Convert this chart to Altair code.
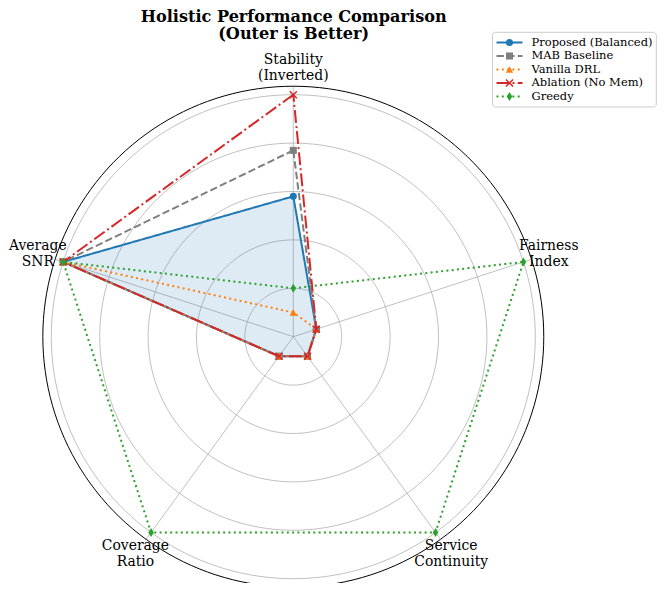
import altair as alt
import pandas as pd

# ---------------- data ----------------
categories = ["Stability\n(Inverted)", "Average\nSNR", "Coverage\nRatio",
              "Service\nContinuity", "Fairness\nIndex"]
series_names = ["Proposed (Balanced)", "MAB Baseline", "Vanilla DRL",
                "Ablation (No Mem)", "Greedy"]
proposed = [0.58, 1.0, 0.10, 0.10, 0.10]
mab = [0.77, 1.0, 0.10, 0.10, 0.10]
vanilla = [0.10, 1.0, 0.10, 0.10, 0.10]
ablation = [1.0, 1.0, 0.10, 0.10, 0.10]
greedy = [0.20, 1.0, 1.0, 1.0, 1.0]
series_values = [proposed, mab, vanilla, ablation, greedy]
ring_ticks = [0.2, 0.4, 0.6, 0.8, 1.0]
title_text = "Holistic Performance Comparison\n(Outer is Better)"

# ---------------- style ----------------
colors = ["#1f77b4", "#7f7f7f", "#ff7f0e", "#d62728", "#2ca02c"]
dashes = [[1, 0], [7.4, 3.2], [2, 3.3], [12.8, 3.2, 2, 3.2], [2, 3.3]]
shapes = ["circle", "square", "triangle-up", "M-1,-1L1,1M-1,1L1,-1",
          "M0,-1L0.62,0L0,1L-0.62,0Z"]
sizes = [50, 50, 55, 50, 80]
filled = [True, True, True, False, True]
R_MAX = 1.035
R_LABEL = 1.11
SERIF = "DejaVu Serif"

W, H = 649, 575
UNIT = 242.0
CX, CY = 285.3, 328.7
xs = alt.Scale(domain=[-CX / UNIT, (W - CX) / UNIT], nice=False, zero=False)
ys = alt.Scale(domain=[-(H - CY) / UNIT, CY / UNIT], nice=False, zero=False)


def X(f):
    return alt.X(f"{f}:Q", scale=xs, axis=None)


def Y(f):
    return alt.Y(f"{f}:Q", scale=ys, axis=None)


n = len(categories)
ang_expr = f"PI/2 + datum.idx*2*PI/{n}"

layers = []

# grid rings
ring_rows = []
for r in ring_ticks:
    for t in range(0, 181):
        ring_rows.append({"ring": r, "t": t})
ring_df = pd.DataFrame(ring_rows)
rings = alt.Chart(ring_df).mark_line(color="#b0b0b0", strokeWidth=0.8).transform_calculate(
    ang="datum.t*2*PI/180", px="datum.ring*cos(datum.ang)", py="datum.ring*sin(datum.ang)"
).encode(x=X("px"), y=Y("py"), detail="ring:N", order="t:Q")
layers.append(rings)

# radial lines
spoke_df = pd.DataFrame({"idx": list(range(n)), "rmax": [R_MAX] * n})
spokes = alt.Chart(spoke_df).mark_rule(color="#b0b0b0", strokeWidth=0.8).transform_calculate(
    ang=ang_expr, px="0", py="0",
    px2="datum.rmax*cos(datum.ang)", py2="datum.rmax*sin(datum.ang)"
).encode(x=X("px"), y=Y("py"), x2="px2:Q", y2="py2:Q")
layers.append(spokes)

# outer spine
spine_df = pd.DataFrame({"t": list(range(0, 181)), "ring": [R_MAX] * 181})
spine = alt.Chart(spine_df).mark_line(color="black", strokeWidth=1).transform_calculate(
    ang="datum.t*2*PI/180", px="datum.ring*cos(datum.ang)", py="datum.ring*sin(datum.ang)"
).encode(x=X("px"), y=Y("py"), order="t:Q")
layers.append(spine)

# category labels
lab_df = pd.DataFrame({"idx": list(range(n)), "label": categories, "rl": [R_LABEL] * n})
labels = alt.Chart(lab_df).mark_text(font=SERIF, fontSize=13.9, lineBreak="\n", lineHeight=16,
                                     align="center", baseline="middle", dy=-8,
                                     color="black").transform_calculate(
    ang=ang_expr, px="datum.rl*cos(datum.ang)", py="datum.rl*sin(datum.ang)"
).encode(x=X("px"), y=Y("py"), text="label:N")
layers.append(labels)


def poly_df(vals):
    rows = []
    for k in range(n + 1):
        i = k % n
        rows.append({"idx": i, "k": k, "value": vals[i]})
    return pd.DataFrame(rows)


for si, (name, vals) in enumerate(zip(series_names, series_values)):
    df = poly_df(vals)
    base = alt.Chart(df).transform_calculate(
        ang=ang_expr, px="datum.value*cos(datum.ang)", py="datum.value*sin(datum.ang)"
    )
    if si == 0:
        layers.append(base.mark_line(fill=colors[0], fillOpacity=0.15, strokeWidth=0).encode(
            x=X("px"), y=Y("py"), order="k:Q"))
    layers.append(base.mark_line(color=colors[si], strokeWidth=2, strokeDash=dashes[si]).encode(
        x=X("px"), y=Y("py"), order="k:Q"))
    pts = df[df["k"] < n]
    pbase = alt.Chart(pts).transform_calculate(
        ang=ang_expr, px="datum.value*cos(datum.ang)", py="datum.value*sin(datum.ang)"
    )
    if filled[si]:
        pm = pbase.mark_point(shape=shapes[si], filled=True, size=sizes[si], color=colors[si], opacity=1)
    else:
        pm = pbase.mark_point(shape=shapes[si], filled=False, size=sizes[si], color=colors[si],
                              strokeWidth=1.5, opacity=1)
    layers.append(pm.encode(x=X("px"), y=Y("py")))

# title
title_df = pd.DataFrame({"t": [title_text]})
layers.append(alt.Chart(title_df).mark_text(font=SERIF, fontSize=16.1, fontWeight="bold", lineBreak="\n",
                                            lineHeight=17.5, align="center", baseline="top",
                                            color="black").encode(
    x=alt.value(285.7), y=alt.value(0.5), text="t:N"))

# legend
one = pd.DataFrame({"a": [0]})
layers.append(alt.Chart(one).mark_rect(cornerRadius=3, fill="white", fillOpacity=0.8,
                                       stroke="#cccccc", strokeWidth=1).encode(
    x=alt.value(484.5), x2=alt.value(648.3), y=alt.value(24.3), y2=alt.value(99)))
leg_y = [34.5, 48, 61.5, 75, 88.5]
LX = 488.5
for si, name in enumerate(series_names):
    ndf = pd.DataFrame({"name": [name]})
    layers.append(alt.Chart(ndf).mark_rule(color=colors[si], strokeWidth=2, strokeDash=dashes[si]).encode(
        x=alt.value(LX), x2=alt.value(LX + 26), y=alt.value(leg_y[si])))
    if filled[si]:
        pm = alt.Chart(ndf).mark_point(shape=shapes[si], filled=True, size=sizes[si], color=colors[si], opacity=1)
    else:
        pm = alt.Chart(ndf).mark_point(shape=shapes[si], filled=False, size=sizes[si], color=colors[si],
                                       strokeWidth=1.5, opacity=1)
    layers.append(pm.encode(x=alt.value(LX + 13), y=alt.value(leg_y[si])))
    layers.append(alt.Chart(ndf).mark_text(font=SERIF, fontSize=11.5, align="left", baseline="middle",
                                           color="black").encode(
        x=alt.value(LX + 35), y=alt.value(leg_y[si]), text="name:N"))

chart = alt.layer(*layers).properties(
    width=W, height=H, padding=0, autosize="none"
).configure_view(stroke=None)

chart.save("out.html", embed_options={"renderer": "svg", "actions": False})
